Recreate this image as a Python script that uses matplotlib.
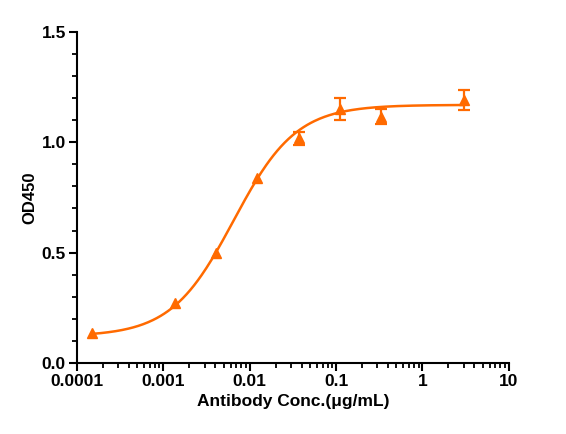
import matplotlib

matplotlib.use("Agg")

import matplotlib.pyplot as plt
import numpy as np
from matplotlib.ticker import FixedLocator, LogLocator, MultipleLocator, NullFormatter

# measured points
conc = [0.00015, 0.00137, 0.0041, 0.0123, 0.037, 0.111, 0.333, 3.0]
od450 = [0.135, 0.27, 0.50, 0.84, 1.018, 1.152, 1.116, 1.192]
od_sd = [0.0, 0.0, 0.0, 0.0, 0.03, 0.05, 0.034, 0.045]

# 4PL fit parameters
FIT_BOTTOM = 0.12
FIT_TOP = 1.17
FIT_EC50 = 0.0065
FIT_HILL = 1.2

COLOR = "#ff6a00"

plt.rcParams["font.family"] = ["Liberation Sans", "DejaVu Sans"]
plt.rcParams["font.weight"] = "bold"

fig = plt.figure(figsize=(5.66, 4.34), dpi=100)
ax = fig.add_axes([0.136, 0.164, 0.763, 0.762])

x_fit = np.logspace(np.log10(conc[0]), np.log10(conc[-1]), 300)
y_fit = FIT_BOTTOM + (FIT_TOP - FIT_BOTTOM) / (1 + (FIT_EC50 / x_fit) ** FIT_HILL)
ax.plot(x_fit, y_fit, color=COLOR, linewidth=1.8, zorder=2)

# error bars only where there is a spread
has_err = np.array(od_sd) > 0
ax.errorbar(
    np.array(conc)[has_err],
    np.array(od450)[has_err],
    yerr=np.array(od_sd)[has_err],
    fmt="none",
    ecolor=COLOR,
    elinewidth=1.6,
    capsize=4,
    capthick=1.6,
    zorder=3,
)
ax.plot(conc, od450, "^", color=COLOR, markersize=7, zorder=4)

ax.set_xscale("log")
ax.set_xlim(1e-4, 10)
ax.set_ylim(0, 1.5)
ax.xaxis.set_major_locator(FixedLocator([1e-4, 1e-3, 1e-2, 1e-1, 1, 10]))
ax.set_xticklabels(["0.0001", "0.001", "0.01", "0.1", "1", "10"])
ax.xaxis.set_minor_locator(LogLocator(base=10, subs=np.arange(2, 10), numticks=20))
ax.xaxis.set_minor_formatter(NullFormatter())
ax.yaxis.set_major_locator(MultipleLocator(0.5))
ax.yaxis.set_minor_locator(MultipleLocator(0.1))
ax.yaxis.set_major_formatter(plt.FuncFormatter(lambda v, _: f"{v:.1f}"))

for side in ("top", "right"):
    ax.spines[side].set_visible(False)
for side in ("left", "bottom"):
    ax.spines[side].set_linewidth(1.5)

ax.tick_params(which="major", length=6, width=1.5, labelsize=12.5, direction="out", pad=2)
ax.tick_params(which="minor", length=3.5, width=1.3, direction="out")

ax.set_xlabel("Antibody Conc.(μg/mL)", fontsize=12.5, fontweight="bold", labelpad=4)
ax.set_ylabel("OD450", fontsize=12, fontweight="bold", labelpad=3)

fig.savefig("out.png", dpi=100)
